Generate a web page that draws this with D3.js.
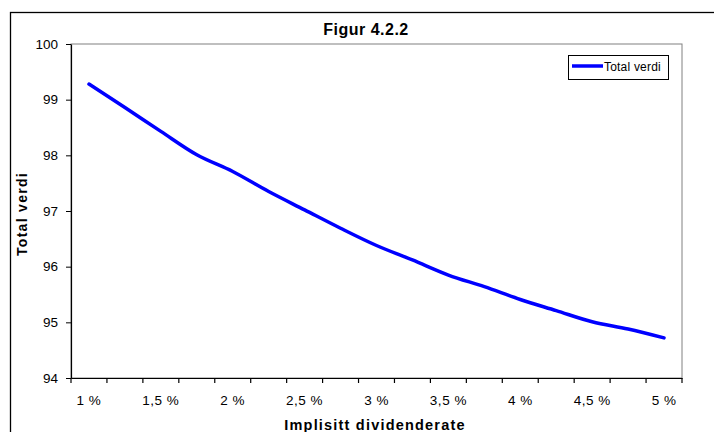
<!DOCTYPE html>
<html>
<head>
<meta charset="utf-8">
<script src="https://cdn.jsdelivr.net/npm/d3@7"></script>
<style>
  body { margin: 0; background: #fff; }
  svg { display: block; font-family: "Liberation Sans", Arial, sans-serif; }
</style>
</head>
<body>
<div id="chart"></div>
<script>
// implisitt dividenderate, 1 % to 5 % in quarter steps
const rates = [1, 1.25, 1.5, 1.75, 2, 2.25, 2.5, 2.75, 3, 3.25, 3.5, 3.75, 4, 4.25, 4.5, 4.75, 5];
const totalVerdi = [99.28, 98.86, 98.43, 98.01, 97.71, 97.35, 97.02, 96.69, 96.38, 96.12, 95.85, 95.64, 95.41, 95.21, 95.01, 94.88, 94.72];
const yTicks = [94, 95, 96, 97, 98, 99, 100];
const seriesName = 'Total verdi';

const width = 714, height = 432;
const margin = {top: 44, right: 32, bottom: 54, left: 71};

const svg = d3.select('#chart').append('svg')
  .attr('width', width)
  .attr('height', height);

// outer frame (runs off the right and bottom edges)
svg.append('rect')
  .attr('x', 10.5).attr('y', 12.5)
  .attr('width', width).attr('height', height)
  .attr('fill', 'none').attr('stroke', '#000').attr('stroke-width', 1.3);

const x = d3.scaleBand()
  .domain(rates)
  .range([margin.left, width - margin.right]);

const y = d3.scaleLinear()
  .domain([94, 100])
  .range([height - margin.bottom, margin.top]);

// plot area border (grey top/right)
svg.append('rect')
  .attr('x', margin.left).attr('y', margin.top)
  .attr('width', width - margin.right - margin.left)
  .attr('height', height - margin.bottom - margin.top)
  .attr('fill', 'none').attr('stroke', '#808080').attr('stroke-width', 1);

const fmt = d => String(d).replace('.', ',') + ' %';

const xAxis = g => g
  .attr('transform', `translate(0,${height - margin.bottom})`)
  .call(d3.axisBottom(x).tickSize(0).tickFormat((d, i) => i % 2 === 0 ? fmt(d) : ''))
  .call(g => g.select('.domain').attr('stroke', '#000').attr('stroke-width', 1.2))
  .call(g => g.selectAll('text').attr('dy', '1.75em').attr('fill', '#000').style('letter-spacing', '0.5px'));

const yAxis = g => g
  .attr('transform', `translate(${margin.left},0)`)
  .call(d3.axisLeft(y).tickValues(yTicks).tickSize(5).tickSizeOuter(0).tickPadding(8).tickFormat(d3.format('d')))
  .call(g => g.select('.domain').attr('stroke', '#000').attr('stroke-width', 1.2))
  .call(g => g.selectAll('line').attr('stroke', '#000'))
  .call(g => g.selectAll('text').attr('fill', '#000'));

svg.append('g').style('font-size', '13.5px').call(xAxis);
svg.append('g').style('font-size', '13.5px').call(yAxis);

// category boundary tick marks, Excel style
const bounds = rates.map(d => x(d)).concat([x(rates[rates.length - 1]) + x.bandwidth()]);
svg.append('g').selectAll('line').data(bounds).join('line')
  .attr('x1', d => d).attr('x2', d => d)
  .attr('y1', height - margin.bottom).attr('y2', height - margin.bottom + 5)
  .attr('stroke', '#000').attr('stroke-width', 1.2);

const line = d3.line()
  .x((d, i) => x(rates[i]) + x.bandwidth() / 2)
  .y(d => y(d))
  .curve(d3.curveMonotoneX);

svg.append('path')
  .datum(totalVerdi)
  .attr('fill', 'none')
  .attr('stroke', '#0000ff')
  .attr('stroke-width', 3.5)
  .attr('stroke-linejoin', 'round')
  .attr('stroke-linecap', 'round')
  .attr('d', line);

// title
svg.append('text')
  .attr('x', 366).attr('y', 35)
  .attr('text-anchor', 'middle')
  .style('font-size', '16px').style('font-weight', 'bold')
  .style('letter-spacing', '0.5px')
  .text('Figur 4.2.2');

// axis titles
svg.append('text')
  .attr('transform', `translate(27,${(margin.top + height - margin.bottom) / 2 + 3}) rotate(-90)`)
  .attr('text-anchor', 'middle')
  .style('font-size', '14px').style('font-weight', 'bold')
  .style('letter-spacing', '1.3px')
  .text('Total verdi');

svg.append('text')
  .attr('x', 375).attr('y', 430)
  .attr('text-anchor', 'middle')
  .style('font-size', '14.5px').style('font-weight', 'bold')
  .style('letter-spacing', '1.2px')
  .text('Implisitt dividenderate');

// legend
const legend = svg.append('g').attr('transform', 'translate(568,55)');
legend.append('rect')
  .attr('x', 0.5).attr('y', 0.5)
  .attr('width', 100).attr('height', 24)
  .attr('fill', '#fff').attr('stroke', '#000').attr('stroke-width', 1);
legend.append('line')
  .attr('x1', 4).attr('x2', 35).attr('y1', 11).attr('y2', 11)
  .attr('stroke', '#0000ff').attr('stroke-width', 3.5);
legend.append('text')
  .attr('x', 36).attr('y', 15.5)
  .style('font-size', '12px')
  .style('letter-spacing', '0.2px')
  .text(seriesName);
</script>
</body>
</html>
